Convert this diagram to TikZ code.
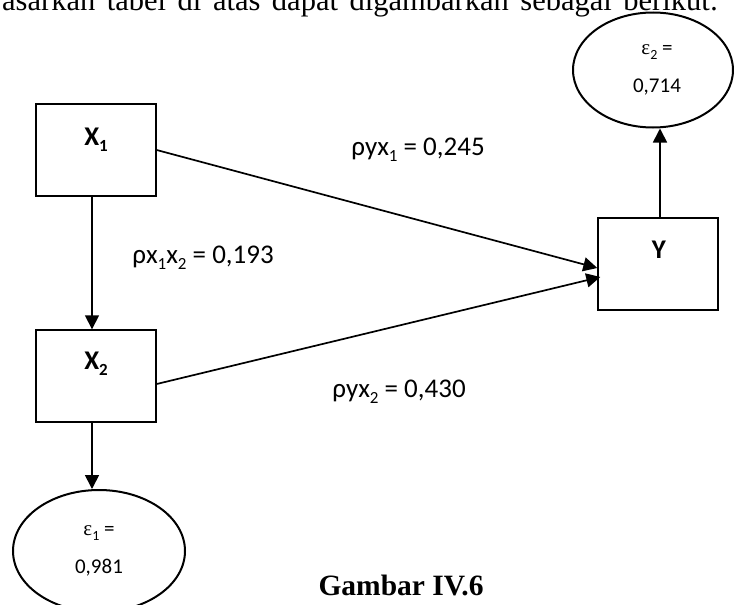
\documentclass[tikz,border=0pt]{standalone}
\usepackage{fontspec}
\setmainfont{Liberation Serif}
\newfontfamily\calib{Carlito}
\usetikzlibrary{arrows.meta,shapes.geometric}
\newcommand\dsub[2]{\raisebox{-0.22em}{\fontsize{#1}{#1}\selectfont #2}}
\begin{document}
\begin{tikzpicture}[x=1pt,y=-1pt,
  box/.style={draw,line width=1.4pt,minimum width=120pt,minimum height=92pt,inner sep=0pt},
  oval/.style={draw,ellipse,line width=2pt,minimum width=172pt,minimum height=115pt,inner sep=0pt,align=center,font=\calib\fontsize{21}{38}\selectfont},
  lbl/.style={font=\calib\fontsize{27}{30}\selectfont,inner sep=0pt},
  blbl/.style={font=\calib\bfseries\fontsize{27}{30}\selectfont,inner sep=0pt},
  arr/.style={line width=1.7pt,-{Triangle[length=14pt,width=14pt]}}
]
\useasboundingbox (0,0) rectangle (734,605);
\fill[white] (0,0) rectangle (734,605);

% top text line (cut at the top)
\node[anchor=base west,inner sep=0pt,font=\fontsize{30.5}{32}\selectfont] (top) at (2,10)
  {\makebox[716pt][s]{asarkan tabel di atas dapat digambarkan sebagai berikut:}};

% boxes
\node[box] (x1) at (96,150) {};
\node[box] (x2) at (96,376) {};
\node[box] (yb) at (658,264) {};
\node[blbl] (x1t) at (96,140) {X\dsub{17}{1}};
\node[blbl] (x2t) at (96,364) {X\dsub{17}{2}};
\node[blbl] (ybt) at (659,250) {Y};

% ellipses
\node[oval,minimum width=160pt] (e2) at (653,70) {\hspace*{8pt}{\rmfamily ε}\dsub{14}{2} =\\\hspace*{8pt}0,714};
\node[oval,minimum height=122pt] (e1) at (99,551) {{\rmfamily ε}\dsub{14}{1} =\\0,981};

% connectors
\draw[arr] ([xshift=-4pt]x1.south) -- ([xshift=-4pt]x2.north);
\draw[arr] ([xshift=-4pt]x2.south) -- ([xshift=-4pt]x2.south |- e1.north);
\draw[arr] ([xshift=2pt]yb.north) -- ([xshift=2pt]yb.north |- e2.south);
\draw[arr] (x1.east) -- ([yshift=-4pt]yb.west);
\draw[arr] ([yshift=-8pt]x2.east) -- ([yshift=-13pt,xshift=3pt]yb.west);

% path labels
\node[lbl] (l1) at (418,150) {ρyx\dsub{17}{1} = 0,245};
\node[lbl] (l2) at (203,258) {ρx\dsub{17}{1}x\dsub{17}{2} = 0,193};
\node[lbl] (l3) at (399,392) {ρyx\dsub{17}{2} = 0,430};

% caption
\node[anchor=base,inner sep=0pt,font=\bfseries\fontsize{29.5}{32}\selectfont] (cap) at (401,595) {Gambar IV.6};
\end{tikzpicture}
\end{document}
